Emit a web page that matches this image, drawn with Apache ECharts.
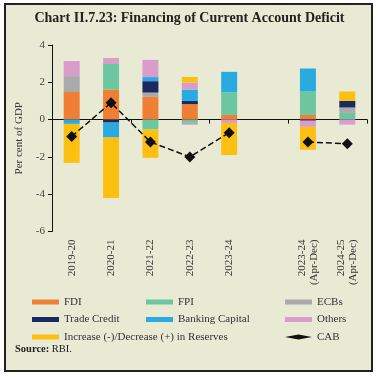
<!DOCTYPE html>
<html>
<head>
<meta charset="utf-8">
<script src="https://cdn.jsdelivr.net/npm/echarts@6/dist/echarts.min.js"></script>
<style>
  html, body { margin: 0; padding: 0; background: #fff; }
  #chart { width: 379px; height: 377px; }
</style>
</head>
<body>
<div id="chart"></div>
<script>
// categories (blank slot between the annual and the Apr-Dec bars)
var years = ['2019-20', '2020-21', '2021-22', '2022-23', '2023-24', '', '2023-24\n(Apr-Dec)', '2024-25\n(Apr-Dec)'];

// per cent of GDP
var fdi       = [1.48, 1.61, 1.22, 0.83, 0.25, null, 0.25, null];
var fpi       = [null, 1.37, -0.53, -0.14, 1.22, null, 1.26, 0.36];
var ecbs      = [0.85, null, 0.23, -0.13, null, null, null, 0.29];
var tradeCr   = [null, -0.16, 0.61, 0.17, null, null, -0.06, 0.35];
var banking   = [-0.23, -0.80, 0.22, 0.61, 1.09, null, 1.23, null];
var others    = [0.81, 0.32, 0.92, 0.38, -0.18, null, -0.33, -0.27];
var reserves  = [-2.09, -3.25, -1.52, 0.30, -1.72, null, -1.23, 0.51];
var cab       = [-0.9, 0.9, -1.2, -2.0, -0.7, null, -1.2, -1.3];

var yTicks = [-6, -4, -2, 0, 2, 4];

var font = '"Liberation Serif", "DejaVu Serif", serif';
var chart = echarts.init(document.getElementById('chart'));

function bar(name, data, color) {
  return {
    name: name,
    type: 'bar',
    stack: 'total',
    barWidth: 16,
    data: data,
    itemStyle: { color: color },
    xAxisIndex: 0
  };
}

var legendBase = {
  orient: 'vertical',
  padding: 0,
  itemWidth: 27,
  itemHeight: 5,
  itemGap: 5.5,
  icon: 'rect',
  textStyle: { fontFamily: font, fontSize: 11, color: '#333', lineHeight: 12 }
};

var option = {
  animation: false,
  graphic: [
    {
      type: 'rect',
      z: -10,
      shape: { x: 5, y: 4, width: 367, height: 367 },
      style: { fill: '#e8ead4', stroke: '#222', lineWidth: 2 }
    },
    {
      type: 'text',
      left: 'center',
      top: 11,
      style: {
        text: 'Chart II.7.23: Financing of Current Account Deficit',
        font: 'bold 14px ' + font,
        fill: '#222'
      }
    },
    {
      type: 'text',
      left: 15,
      top: 344,
      style: {
        text: '{b|Source:} RBI.',
        rich: { b: { fontWeight: 'bold', fontFamily: font, fontSize: 10.5, fill: '#222' } },
        font: '10.5px ' + font,
        fill: '#222'
      }
    }
  ],
  grid: { left: 52, right: 12, top: 45, bottom: 145.5 },
  legend: [
    Object.assign({}, legendBase, {
      left: 32, top: 296,
      data: ['FDI', 'Trade Credit', 'Increase (-)/Decrease (+) in Reserves']
    }),
    Object.assign({}, legendBase, {
      left: 146, top: 296,
      data: ['FPI', 'Banking Capital']
    }),
    Object.assign({}, legendBase, {
      left: 285, top: 296,
      data: ['ECBs', 'Others', { name: 'CAB', icon: 'diamond', lineStyle: { type: 'dashed', width: 1.5 } }]
    })
  ],
  xAxis: [
    {
      type: 'category',
      data: years,
      axisLine: { onZero: true, lineStyle: { color: '#111', width: 1 } },
      axisTick: { show: true, length: 4, lineStyle: { color: '#111' } },
      axisLabel: { show: false }
    },
    {
      type: 'category',
      data: years,
      position: 'bottom',
      axisLine: { show: false, onZero: false },
      axisTick: { show: false },
      axisLabel: {
        rotate: 90,
        margin: 8,
        interval: 0,
        fontFamily: font,
        fontSize: 11,
        lineHeight: 12,
        color: '#333'
      }
    }
  ],
  yAxis: {
    type: 'value',
    min: yTicks[0],
    max: yTicks[yTicks.length - 1],
    interval: 2,
    name: 'Per cent of GDP',
    nameLocation: 'middle',
    nameGap: 26,
    nameTextStyle: { fontFamily: font, fontSize: 11, color: '#333' },
    axisLine: { show: true, lineStyle: { color: '#111' } },
    axisTick: { show: true, length: 4, lineStyle: { color: '#111' } },
    splitLine: { show: false },
    axisLabel: { fontFamily: font, fontSize: 11, color: '#444', margin: 7 }
  },
  series: [
    bar('FDI', fdi, '#ef7f35'),
    bar('FPI', fpi, '#6cc6a0'),
    bar('ECBs', ecbs, '#aaaaaa'),
    bar('Trade Credit', tradeCr, '#1c2860'),
    bar('Banking Capital', banking, '#29abe2'),
    bar('Others', others, '#d99dcb'),
    bar('Increase (-)/Decrease (+) in Reserves', reserves, '#fdc010'),
    {
      name: 'CAB',
      type: 'line',
      data: cab,
      xAxisIndex: 0,
      symbol: 'diamond',
      symbolSize: 11,
      connectNulls: false,
      itemStyle: { color: '#111' },
      lineStyle: { color: '#111', width: 1.5, type: 'dashed' },
      z: 5
    }
  ]
};

chart.setOption(option);
</script>
</body>
</html>
